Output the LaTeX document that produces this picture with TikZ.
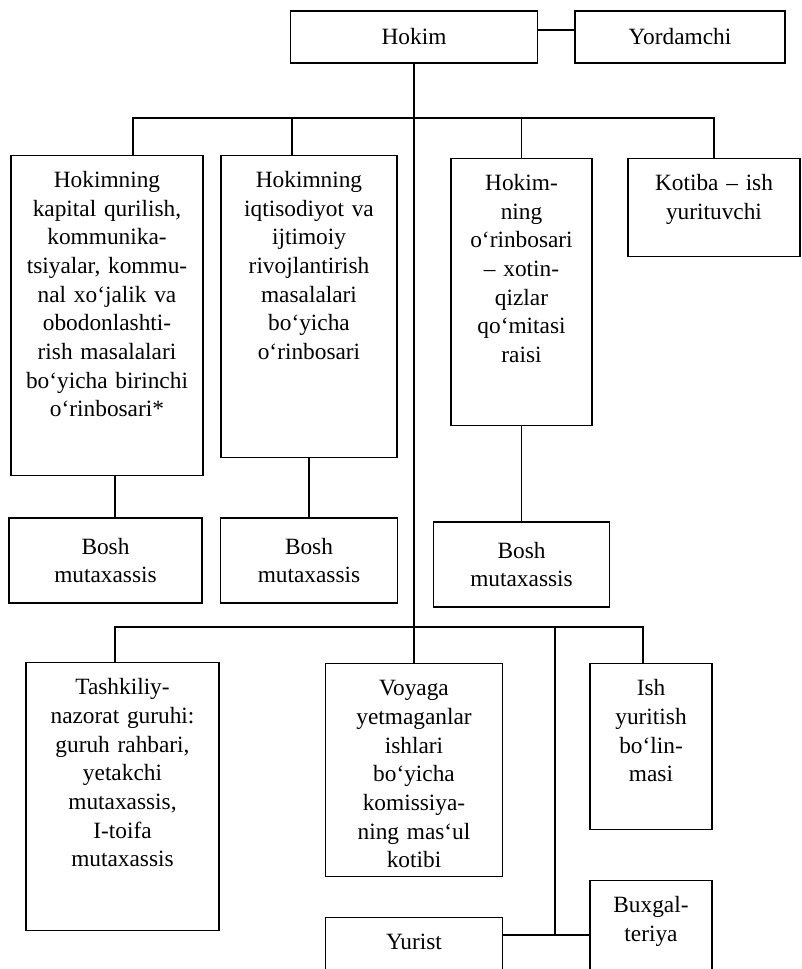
\documentclass[tikz,border=0pt]{standalone}
\usepackage{fontspec}
\setmainfont{Liberation Serif}
\usepackage{tikz}

\tikzset{
  post/.style={draw, line width=1pt, align=center, inner xsep=2pt},
  tall/.style={post, anchor=north, inner ysep=0pt, text height=24pt}
}

\begin{document}
\begin{tikzpicture}[x=0.75pt, y=-0.75pt, font=\fontsize{17.5}{21.5}\selectfont]
\def\px{0.75pt}
\useasboundingbox (0,0) rectangle (801,969);
\clip (0,0) rectangle (801,969);

% top
\node[post, minimum width=247*\px, minimum height=52*\px] (hokim) at (414,37) {Hokim};
\node[post, minimum width=210*\px, minimum height=52*\px] (yordam) at (680,37) {Yordamchi};

% first row
\node[tall, text width=192*\px-4pt, text depth=320*\px-24pt] (b1) at (107,155)
  {Hokimning\\ kapital qurilish,\\ kommunika-\\ tsiyalar, kommu-\\ nal xo‘jalik va\\
   obodonlashti-\\ rish masalalari\\ bo‘yicha birinchi\\ o‘rinbosari*};
\node[tall, text width=176*\px-4pt, text depth=302*\px-24pt] (b2) at (309,155)
  {Hokimning\\ iqtisodiyot va\\ ijtimoiy\\ rivojlantirish\\ masalalari\\ bo‘yicha\\ o‘rinbosari};
\node[tall, text width=141*\px-4pt, text depth=267*\px-24pt] (b3) at (521.5,158)
  {Hokim-\\ ning\\ o‘rinbosari\\ – xotin-\\ qizlar\\ qo‘mitasi\\ raisi};
\node[tall, text width=172*\px-4pt, text depth=98*\px-24pt] (b4) at (714,158)
  {Kotiba – ish\\ yurituvchi};

\node[post, minimum width=193*\px, minimum height=85*\px] (s1) at (105.5,560.5) {Bosh\\ mutaxassis};
\node[post, minimum width=177*\px, minimum height=85*\px] (s2) at (309,560.5) {Bosh\\ mutaxassis};
\node[post, minimum width=176*\px, minimum height=85*\px] (s3) at (521.5,564.5) {Bosh\\ mutaxassis};

% second row
\node[tall, text width=193*\px-4pt, text depth=268*\px-24pt] (tash) at (122.5,662)
  {Tashkiliy-\\ nazorat guruhi:\\ guruh rahbari,\\ yetakchi\\ mutaxassis,\\ I-toifa\\ mutaxassis};
\node[tall, text width=177*\px-4pt, text depth=213*\px-24pt] (voyaga) at (414,663)
  {Voyaga\\ yetmaganlar\\ ishlari\\ bo‘yicha\\ komissiya-\\ ning mas‘ul\\ kotibi};
\node[tall, text width=122*\px-4pt, text depth=166*\px-24pt] (ish) at (651,663)
  {Ish\\ yuritish\\ bo‘lin-\\ masi};
\node[tall, text width=177*\px-4pt, text depth=100*\px-24pt] (yurist) at (414,917) {Yurist};
\node[tall, text width=122*\px-4pt, text depth=140*\px-24pt] (bux) at (651,880) {Buxgal-\\ teriya};

\coordinate (j1) at (414,118);
\coordinate (j2) at (555,627);
\coordinate (yj) at ([yshift=-18*\px]yurist.north east);

\draw[line width=1pt] ([yshift=7*\px]hokim.east) -- ([yshift=7*\px]hokim.east -| yordam.west);
\draw[line width=1pt] (hokim.south) -- (voyaga.north);
\draw[line width=1pt] ([xshift=26*\px]b1.north) |- (j1) -| (b4.north);
\draw[line width=1pt] ([xshift=-17*\px]b2.north) -- ([xshift=-17*\px]b2.north |- j1);
\draw[line width=1pt] (b3.north) -- (b3.north |- j1);
\draw[line width=1pt] ([xshift=8*\px]b1.south) -- ([xshift=8*\px]b1.south |- s1.north);
\draw[line width=1pt] (b2.south) -- (s2.north);
\draw[line width=1pt] (b3.south) -- (s3.north);
\draw[line width=1pt] ([xshift=-7.5*\px]tash.north) |- (j2) -| ([xshift=-8*\px]ish.north);
\draw[line width=1pt] (j2) -- (j2 |- yj);
\draw[line width=1pt] (yj) -- (yj -| bux.west);
\end{tikzpicture}
\end{document}
